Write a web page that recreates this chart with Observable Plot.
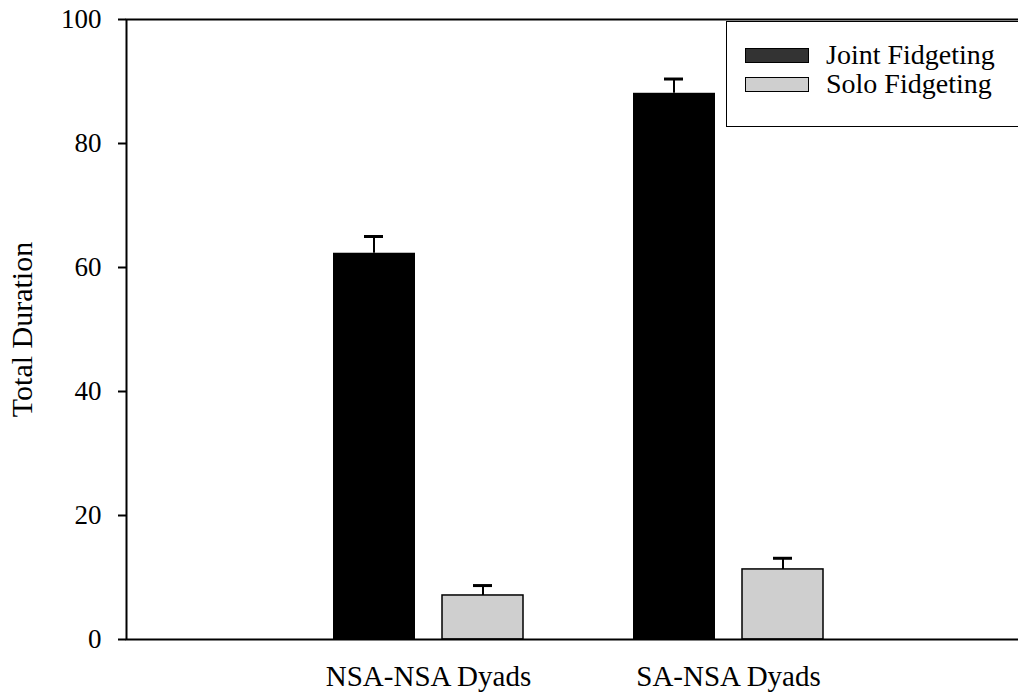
<!DOCTYPE html>
<html>
<head>
<meta charset="utf-8">
<script src="https://cdn.jsdelivr.net/npm/d3@7"></script>
<script src="https://cdn.jsdelivr.net/npm/@observablehq/plot@0.6"></script>
<style>
  html, body { margin: 0; padding: 0; background: #fff; overflow: hidden; }
  #wrap { position: relative; width: 1020px; height: 696px; overflow: hidden; }
  #wrap svg { max-width: none !important; }
  #legend {
    position: absolute; left: 726px; top: 21px; width: 320px; height: 104px;
    border: 1.5px solid #000; background: #fff;
    font-family: "Liberation Serif", "Times New Roman", serif; font-size: 28px; color: #000;
  }
  .item { position: absolute; left: 18px; display: flex; align-items: center; height: 30px; }
  .sw { width: 64px; height: 15px; border: 1px solid #000; margin-right: 17px; box-sizing: border-box; }
</style>
</head>
<body>
<div id="wrap"></div>
<script>
const groups = ["NSA-NSA Dyads", "SA-NSA Dyads"];
const series = ["Joint Fidgeting", "Solo Fidgeting"];
const jointValues = [62.3, 88.1];
const jointErrors = [2.7, 2.3];
const soloValues = [7.1, 11.3];
const soloErrors = [1.6, 1.8];
const yTicks = [0, 20, 40, 60, 80, 100];
const colors = ["#000000", "#cfcfcf"];

const joint = groups.map((g, i) => ({group: g, value: jointValues[i], hi: jointValues[i] + jointErrors[i]}));
const solo = groups.map((g, i) => ({group: g, value: soloValues[i], hi: soloValues[i] + soloErrors[i]}));

const plot = Plot.plot({
  width: 1020,
  height: 696,
  marginLeft: 126,
  marginRight: 0,
  marginTop: 19,
  marginBottom: 57,
  style: {fontFamily: "'Liberation Serif', 'Times New Roman', serif", background: "#fff", color: "#000"},
  x: {domain: groups, paddingInner: 0.3654, paddingOuter: 0.6678, align: 0.514, label: null},
  y: {domain: [0, 100], ticks: yTicks, label: "Total Duration"},
  marks: [
    Plot.barY(joint, {x: "group", y: "value", fill: colors[0], insetLeft: 0, insetRight: 108}),
    Plot.barY(solo, {x: "group", y: "value", fill: colors[1], stroke: "#000", strokeWidth: 1.5, insetLeft: 109, insetRight: 0}),
    Plot.ruleX(joint, {x: "group", y1: "value", y2: "hi", dx: -54.5, stroke: "#000", strokeWidth: 2}),
    Plot.ruleX(solo, {x: "group", y1: "value", y2: "hi", dx: 54.5, stroke: "#000", strokeWidth: 2}),
    Plot.tickY(joint, {x: "group", y: "hi", insetLeft: 31, insetRight: 140, stroke: "#000", strokeWidth: 3}),
    Plot.tickY(solo, {x: "group", y: "hi", insetLeft: 140, insetRight: 31, stroke: "#000", strokeWidth: 3}),
    Plot.frame({stroke: "#000", strokeWidth: 2}),
    Plot.axisY({ticks: yTicks, tickSize: 8, tickPadding: 17, fontSize: 27, strokeWidth: 2, label: null}),
    Plot.axisY({ticks: [], tickSize: 0, fontSize: 30, label: "Total Duration", labelAnchor: "center",
      labelOffset: 116, labelArrow: false, dx: 6}),
    Plot.axisX({tickSize: 0, tickPadding: 26, fontSize: 29, label: null})
  ]
});
document.getElementById("wrap").append(plot);

const legend = document.createElement("div");
legend.id = "legend";
series.forEach((s, i) => {
  const item = document.createElement("div");
  item.className = "item";
  item.style.top = (i === 0 ? 18 : 47) + "px";
  const sw = document.createElement("div");
  sw.className = "sw";
  sw.style.background = i === 0 ? "#333" : colors[1];
  const t = document.createElement("span");
  t.textContent = s;
  item.append(sw, t);
  legend.append(item);
});
document.getElementById("wrap").append(legend);
</script>
</body>
</html>
